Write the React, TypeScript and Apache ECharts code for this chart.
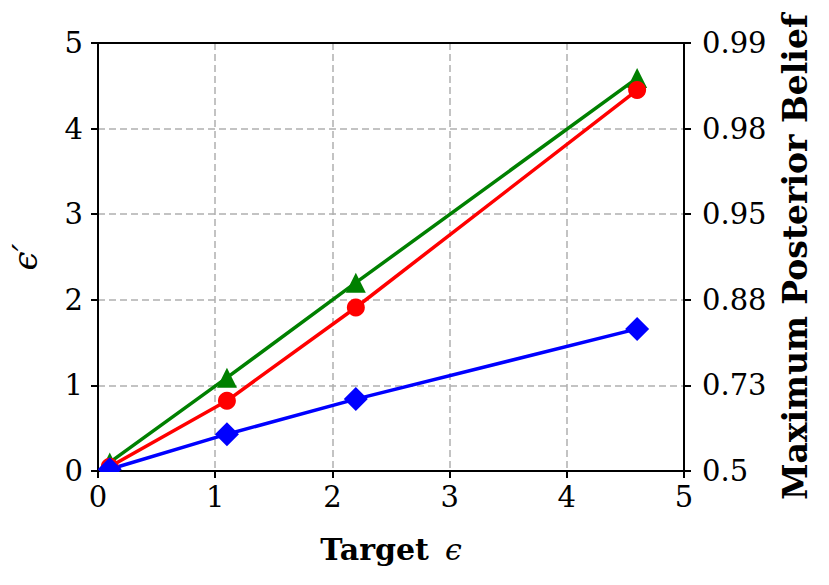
import React, { useEffect, useRef } from "react";
import * as echarts from "echarts";

const targetEps = [0.1, 1.1, 2.2, 4.6];
const greenVals = [0.1, 1.09, 2.2, 4.59];
const redVals = [0.05, 0.82, 1.91, 4.45];
const blueVals = [0.02, 0.43, 0.84, 1.66];
const rightTickLabels = ["0.5", "0.73", "0.88", "0.95", "0.98", "0.99"];

const SERIF = "DejaVu Serif";

export default function App() {
  const ref = useRef<HTMLDivElement>(null);
  useEffect(() => {
    if (!ref.current) return;
    const chart = echarts.init(ref.current, undefined, { renderer: "svg" });
    const gridLeft = 98, gridRight = 145, gridTop = 43, gridBottom = 114;
    const mkSeries = (name: string, vals: number[], color: string, symbol: string, size: number) => ({
      name,
      type: "line",
      data: targetEps.map((x, i) => [x, vals[i]]),
      symbol,
      symbolSize: size,
      showAllSymbol: true,
      clip: false,
      lineStyle: { color, width: 3.5 },
      itemStyle: { color, borderWidth: 0 },
      z: 2,
    });
    const axisLineStyle = { color: "#000", width: 2 };
    const tickStyle = { show: true, inside: false, length: 7, lineStyle: { color: "#000", width: 2 } };
    const gridLine = { show: true, lineStyle: { color: "#b0b0b0", width: 1.5, type: [7, 4] } };
    chart.setOption({
      animation: false,
      backgroundColor: "#fff",
      grid: {
        left: gridLeft,
        right: gridRight,
        top: gridTop,
        bottom: gridBottom,
        containLabel: false,
        outerBoundsMode: "none",
      },
      xAxis: {
        type: "value",
        min: 0,
        max: 5,
        interval: 1,
        position: "bottom",
        axisLine: { show: true, onZero: false, lineStyle: axisLineStyle },
        axisTick: tickStyle,
        axisLabel: { color: "#000", fontFamily: SERIF, fontSize: 29, margin: 11 },
        splitLine: gridLine,
        name: "{b|Target}{s| }{i|ϵ}",
        nameLocation: "middle",
        nameGap: 63,
        nameTextStyle: {
          rich: {
            b: { fontFamily: SERIF, fontWeight: "bold", fontSize: 30, color: "#000" },
            s: { fontFamily: SERIF, fontSize: 30, width: 16, color: "#000" },
            i: { fontFamily: SERIF, fontStyle: "italic", fontSize: 30, color: "#000" },
          },
        },
      },
      yAxis: [
        {
          type: "value",
          min: 0,
          max: 5,
          interval: 1,
          position: "left",
          axisLine: { show: true, onZero: false, lineStyle: axisLineStyle },
          axisTick: tickStyle,
          axisLabel: { color: "#000", fontFamily: SERIF, fontSize: 29, margin: 15 },
          splitLine: gridLine,
          name: "ϵ′",
          nameLocation: "middle",
          nameRotate: 90,
          nameGap: 56,
          nameTextStyle: { fontFamily: SERIF, fontStyle: "italic", fontSize: 34, color: "#000" },
        },
        {
          type: "value",
          min: 0,
          max: 5,
          interval: 1,
          position: "right",
          axisLine: { show: true, onZero: false, lineStyle: axisLineStyle },
          axisTick: tickStyle,
          axisLabel: {
            color: "#000",
            fontFamily: SERIF,
            fontSize: 29,
            margin: 18,
            formatter: (v: number) => rightTickLabels[Math.round(v)] ?? "",
          },
          splitLine: { show: false },
          name: "Maximum Posterior Belief",
          nameLocation: "middle",
          nameRotate: 90,
          nameGap: 95,
          nameTextStyle: { fontFamily: SERIF, fontWeight: "bold", fontSize: 33, color: "#000" },
        },
      ],
      graphic: [
        {
          type: "line",
          shape: { x1: gridLeft, y1: gridTop, x2: 829 - gridRight, y2: gridTop },
          style: { stroke: "#000", lineWidth: 2 },
          z: 10,
        },
        {
          type: "rect",
          shape: { x: gridLeft + 2, y: 585 - gridBottom + 1, width: 30, height: 14 },
          style: { fill: "#fff" },
          z: 3,
        },
      ],
      series: [
        mkSeries("green", greenVals, "#008000", "triangle", 20),
        mkSeries("red", redVals, "#ff0000", "circle", 18),
        mkSeries("blue", blueVals, "#0000ff", "diamond", 24),
      ],
    });
    return () => chart.dispose();
  }, []);
  return (
    <div
      ref={ref}
      style={{ position: "fixed", left: 0, top: 0, width: 829, height: 585, background: "#fff" }}
    />
  );
}
